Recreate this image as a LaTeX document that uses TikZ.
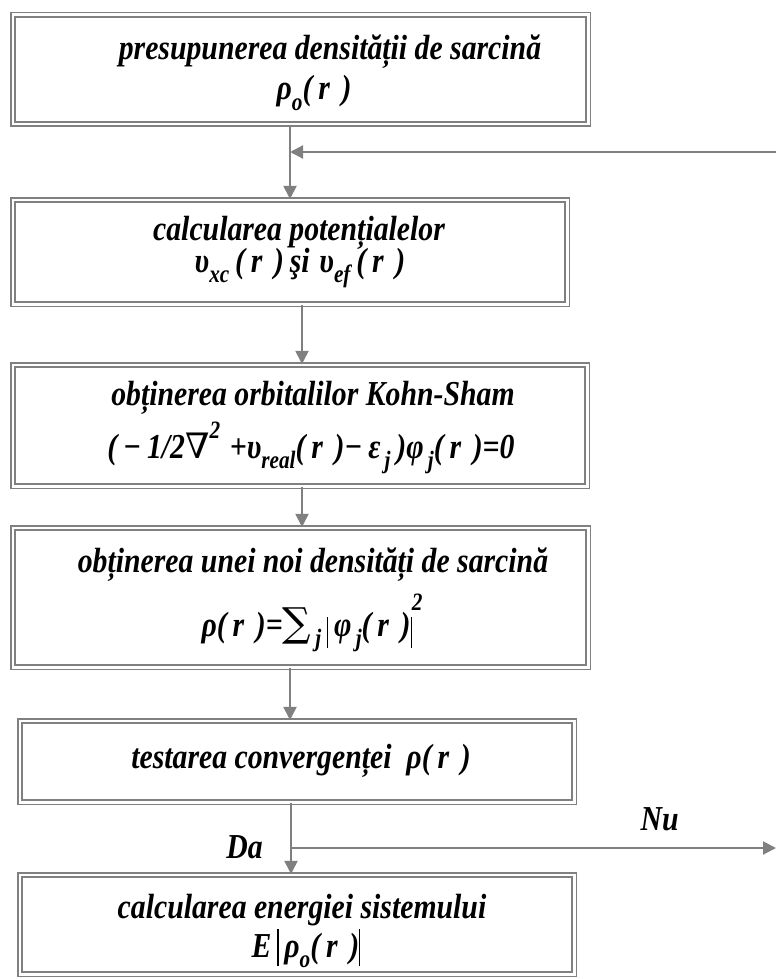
\documentclass[tikz,border=0pt]{standalone}
\usepackage{fontspec}
\setmainfont{Liberation Serif}[FakeStretch=0.85]
\newfontfamily\symfont{DejaVu Serif}
\usepackage{tikz}
\usetikzlibrary{positioning, arrows.meta}
\definecolor{linegray}{RGB}{128,128,128}
\tikzstyle{box} = [rectangle, draw=linegray, double=white, double distance=2.5pt, line width=1.6pt, inner sep=0pt]
\tikzstyle{arrow} = [draw=linegray, line width=2pt, -{Triangle[length=13pt,width=13pt]}]
\tikzstyle{txt} = [anchor=base, inner sep=0pt, font=\fontsize{35}{41}\selectfont\bfseries\itshape]
\newcommand{\lowtxt}[1]{\raisebox{-0.3em}{\fontsize{25}{25}\selectfont #1}}
\newcommand{\uptxt}[2][0.55em]{\raisebox{#1}{\fontsize{25}{25}\selectfont #2}}
\newcommand{\symb}[1]{{\symfont\mdseries\upshape #1}}
\newcommand{\ofr}{(\,r\,\,)}

\begin{document}
\begin{tikzpicture}[x=1pt, y=-1pt]
        \useasboundingbox (0,0) rectangle (776,979);

        \node (presup) [box, minimum width=575.5, minimum height=109.5] at (300.5,69.5) {};
        \node (calcpot) [box, minimum width=554.5, minimum height=104.5] at (290,252) {};
        \node (orbit) [box, minimum width=574.5, minimum height=121.5] at (300,425.5) {};
        \node (densit) [box, minimum width=575.5, minimum height=139.5] at (300.5,597.5) {};
        \node (test) [box, minimum width=554.5, minimum height=81.5] at (297,761.5) {};
        \node (energ) [box, minimum width=554.5, minimum height=99.5] at (297,924.5) {};

        % texte in casete
        \node (presupA) [txt] at (330,60) {presupunerea densității de sarcină};
        \node (presupB) [txt] at (314,100) {ρ\lowtxt{o}\ofr};
        \node (calcpotA) [txt] at (299,240) {calcularea potențialelor};
        \node (calcpotB) [txt] at (300,272) {υ\lowtxt{xc}\,\ofr\,şi\;υ\lowtxt{ef}\,\ofr};
        \node (orbitA) [txt] at (313,405) {obținerea orbitalilor Kohn-Sham};
        \node (orbitB) [txt] at (311,458) {(\,−\,1/2\symb{∇}\uptxt{2}\;+υ\lowtxt{real}\ofr−\,ε\lowtxt{\,j}\,)φ\lowtxt{\,j}\ofr=0};
        \node (densitA) [txt] at (313,572) {obținerea unei noi densități de sarcină};
        \node (densitB) [txt] at (312,636) {ρ\ofr=\symb{\fontsize{40}{40}\selectfont∑}\lowtxt{\,j}\,\rule[-12pt]{1.2pt}{31pt}\,φ\lowtxt{\,j}\ofr\rule[-12pt]{1.2pt}{31pt}\uptxt[26pt]{2}};
        \node (testA) [txt] at (301,768) {testarea convergenței \ ρ\ofr};
        \node (energA) [txt] at (302,918) {calcularea energiei sistemului};
        \node (energB) [txt] at (306,957) {E\,\rule[-9pt]{1.2pt}{37pt}\,ρ\lowtxt{o}\ofr\rule[-9pt]{1.2pt}{37pt}};

        \coordinate (fbstart) at (776,152);
        \coordinate (split) at (291,848);
        \coordinate (nuend) at (776,848);

        \draw [arrow] ([xshift=-10.5]presup.south) -- (calcpot.north);
        \draw [arrow] (fbstart) -- (fbstart -| calcpot.north);
        \draw [arrow] ([xshift=12]calcpot.south) -- ([xshift=2]orbit.north);
        \draw [arrow] ([xshift=2]orbit.south) -- ([xshift=1.5]densit.north);
        \draw [arrow] ([xshift=-10.5]densit.south) -- ([xshift=-7]test.north);
        \draw [arrow] ([xshift=-6]test.south) -- ([xshift=-6]energ.north);
        \draw [arrow] (split) -- node[txt, pos=0.76, yshift=18]{Nu} (nuend);
        \node (da) [txt, left=28 of split, anchor=base east, yshift=-10] {Da};

\end{tikzpicture}
\end{document}
